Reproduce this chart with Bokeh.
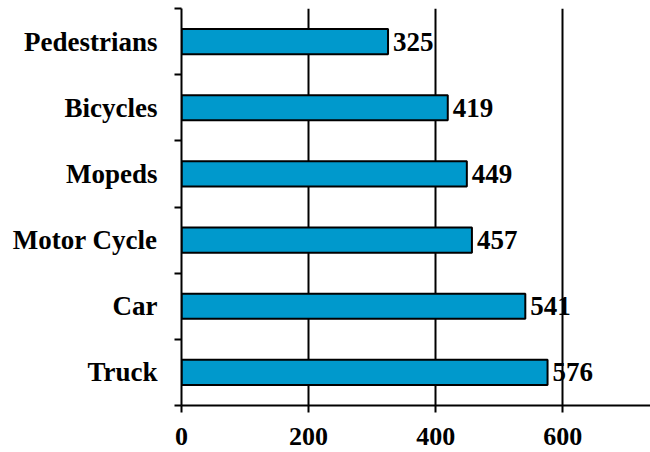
from bokeh.plotting import figure
from bokeh.models import FixedTicker, Range1d, ColumnDataSource, LabelSet
from bokeh.embed import file_html
from bokeh.resources import INLINE

categories = ["Truck", "Car", "Motor Cycle", "Mopeds", "Bicycles", "Pedestrians"]
values = [576, 541, 457, 449, 419, 325]
x_ticks = [0, 200, 400, 600]

n = len(categories)
centers = [i + 0.5 for i in range(n)]
bounds = list(range(n + 1))

src = ColumnDataSource(dict(y=centers, v=values, lab=[str(v) for v in values]))

p = figure(width=650, height=452, output_backend="svg", toolbar_location=None,
           x_range=Range1d(0, 738), y_range=Range1d(0, n),
           min_border_left=181, min_border_right=0, min_border_top=8, min_border_bottom=47)
p.outline_line_color = None

p.hbar(y="y", right="v", left=0, height=0.38, source=src,
       fill_color="#0099CC", line_color="black", line_width=2)

labels = LabelSet(x="v", y="y", text="lab", source=src, x_offset=5,
                  text_baseline="middle", text_font="Liberation Serif",
                  text_font_style="bold", text_font_size="27px", text_color="black")
p.add_layout(labels)

font = "Liberation Serif"
# x axis
p.xaxis.ticker = FixedTicker(ticks=x_ticks)
p.xaxis.axis_line_color = "black"
p.xaxis.axis_line_width = 2
p.xaxis.major_tick_out = 7
p.xaxis.major_tick_in = 0
p.xaxis.major_tick_line_width = 2
p.xaxis.minor_tick_line_color = None
p.xaxis.major_label_text_font = font
p.xaxis.major_label_text_font_style = "bold"
p.xaxis.major_label_text_font_size = "26px"
p.xaxis.major_label_text_color = "black"
p.xaxis.major_label_standoff = 15

# y axis
p.yaxis.ticker = FixedTicker(ticks=centers, minor_ticks=bounds)
p.yaxis.major_label_overrides = {c: cat for c, cat in zip(centers, categories)}
p.yaxis.axis_line_color = "black"
p.yaxis.axis_line_width = 2
p.yaxis.major_tick_line_color = None
p.yaxis.major_tick_out = 0
p.yaxis.major_tick_in = 0
p.yaxis.minor_tick_out = 7
p.yaxis.minor_tick_in = 0
p.yaxis.minor_tick_line_width = 2
p.yaxis.minor_tick_line_color = "black"
p.yaxis.major_label_text_font = font
p.yaxis.major_label_text_font_style = "bold"
p.yaxis.major_label_text_font_size = "27px"
p.yaxis.major_label_text_color = "black"
p.yaxis.major_label_standoff = 17

p.xgrid.ticker = FixedTicker(ticks=x_ticks[1:])
p.xgrid.grid_line_color = "black"
p.xgrid.grid_line_width = 2
p.ygrid.grid_line_color = None

open("out.html", "w").write(file_html(p, INLINE))
